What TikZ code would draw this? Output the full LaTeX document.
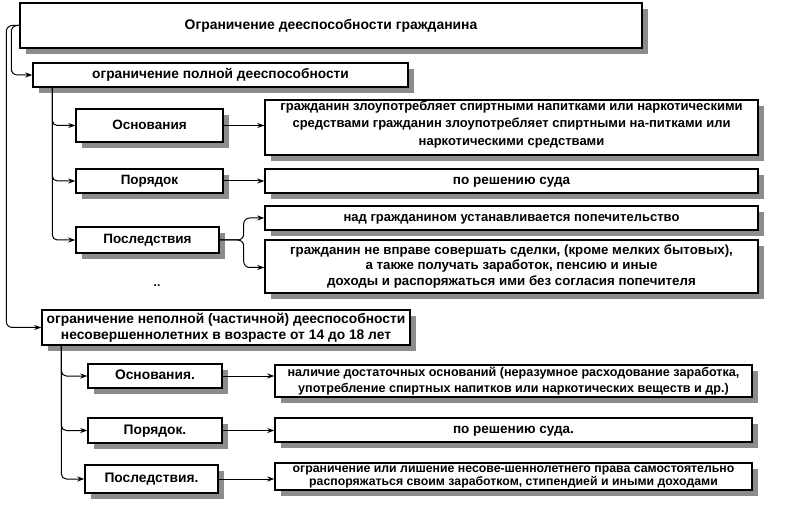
\documentclass[tikz,border=0pt]{standalone}
\usepackage{fontspec}
\setmainfont{Liberation Sans}
\usetikzlibrary{shadows,arrows.meta}
\begin{document}
\begin{tikzpicture}[x=1pt,y=-1pt,
  box/.style={draw=black, line width=1.4pt, fill=white, inner sep=0pt, align=center,
    font=\fontsize{13.5}{17}\selectfont\bfseries,
    general shadow={shadow xshift=6pt, shadow yshift=-6pt, rounded corners=2pt,
      draw=none, fill=black!45}},
  one/.style={text height=9.5pt, text depth=2pt},
  conn/.style={line width=1pt, -{Stealth[length=7pt,width=5pt]}},
]
\useasboundingbox (0,0) rectangle (800,510);

% top
\node[box, one, minimum width=622pt, minimum height=45pt, font=\fontsize{13.9}{17}\selectfont\bfseries] (top) at (331,25.5) {Ограничение дееспособности гражданина};

% full capacity branch
\node[box, one, minimum width=375pt, minimum height=24pt, font=\fontsize{13.75}{17}\selectfont\bfseries] (full) at (220.5,75) {ограничение полной дееспособности};
\node[box, one, minimum width=147pt, minimum height=33pt] (a1) at (149.5,125.5) {Основания};
\node[box, one, minimum width=147pt, minimum height=24pt] (a2) at (149.5,181) {Порядок};
\node[box, one, minimum width=143pt, minimum height=26pt] (a3) at (147.5,240) {Последствия};
\node[box, minimum width=493pt, minimum height=55pt, font=\fontsize{13}{17.5}\selectfont\bfseries, text depth=9pt] (r1) at (511.5,127.5) {гражданин злоупотребляет спиртными напитками или наркотическими\\средствами гражданин злоупотребляет спиртными на-питками или\\наркотическими средствами};
\node[box, one, minimum width=493pt, minimum height=24pt] (r2) at (511.5,181) {по решению суда};
\node[box, one, minimum width=493pt, minimum height=24pt, font=\fontsize{13}{17}\selectfont\bfseries] (r3) at (511.5,218) {над гражданином устанавливается попечительство};
\node[box, minimum width=493pt, minimum height=53pt, font=\fontsize{13.3}{15.8}\selectfont\bfseries] (r4) at (511.5,266.5) {гражданин не вправе совершать сделки, (кроме мелких бытовых),\\а также получать заработок, пенсию и иные\\доходы и распоряжаться ими без согласия попечителя};
\node[font=\fontsize{12}{14}\selectfont\bfseries] (dots) at (157,286) {..};

% partial capacity branch
\node[box, minimum width=368pt, minimum height=35pt, font=\fontsize{13.8}{16}\selectfont\bfseries] (part) at (226,327.5) {ограничение неполной (частичной) дееспособности\\несовершеннолетних в возрасте от 14 до 18 лет};
\node[box, one, minimum width=134pt, minimum height=24pt, font=\fontsize{13.8}{17}\selectfont\bfseries] (b1) at (155,376) {Основания.};
\node[box, one, minimum width=134pt, minimum height=25pt, font=\fontsize{13.8}{17}\selectfont\bfseries] (b2) at (155,430.5) {Порядок.};
\node[box, one, minimum width=133pt, minimum height=28pt, font=\fontsize{13.8}{17}\selectfont\bfseries] (b3) at (151.5,479) {Последствия.};
\node[box, minimum width=477pt, minimum height=32pt, font=\fontsize{12.6}{15.5}\selectfont\bfseries] (s1) at (513.5,381) {наличие достаточных оснований (неразумное расходование заработка,\\употребление спиртных напитков или наркотических веществ и др.)};
\node[box, one, minimum width=477pt, minimum height=24pt] (s2) at (513.5,430) {по решению суда.};
\node[box, minimum width=477pt, minimum height=27pt, font=\fontsize{12.3}{13}\selectfont\bfseries] (s3) at (513.5,476.5) {ограничение или лишение несове-шеннолетнего права самостоятельно\\распоряжаться своим заработком, стипендией и иными доходами};

% connectors from top
\draw[conn, rounded corners=6pt] (top.west) -| ([xshift=-21pt]full.west) -- (full.west);
\draw[conn, rounded corners=6pt] (top.west) -| ([xshift=-35pt]part.west) -- (part.west);

% full branch
\draw[conn, rounded corners=5pt] ([xshift=20pt]full.south west) |- (a1.west);
\draw[conn, rounded corners=5pt] ([xshift=20pt]full.south west) |- (a2.west);
\draw[conn, rounded corners=5pt] ([xshift=20pt]full.south west) |- (a3.west);
\draw[conn] (a1.east) -- (a1.east -| r1.west);
\draw[conn] (a2.east) -- (r2.west);
\draw[conn, rounded corners=6pt] (a3.east) -- ++(24,0) |- (r3.west);
\draw[conn, rounded corners=6pt] (a3.east) -- ++(24,0) |- ([yshift=-1pt]r4.west);

% partial branch
\draw[conn, rounded corners=5pt] ([xshift=20pt]part.south west) |- (b1.west);
\draw[conn, rounded corners=5pt] ([xshift=20pt]part.south west) |- (b2.west);
\draw[conn, rounded corners=5pt] ([xshift=20pt]part.south west) |- (b3.west);
\draw[conn] (b1.east) -- (b1.east -| s1.west);
\draw[conn] (b2.east) -- (b2.east -| s2.west);
\draw[conn] (b3.east) -- (b3.east -| s3.west);
\end{tikzpicture}
\end{document}
